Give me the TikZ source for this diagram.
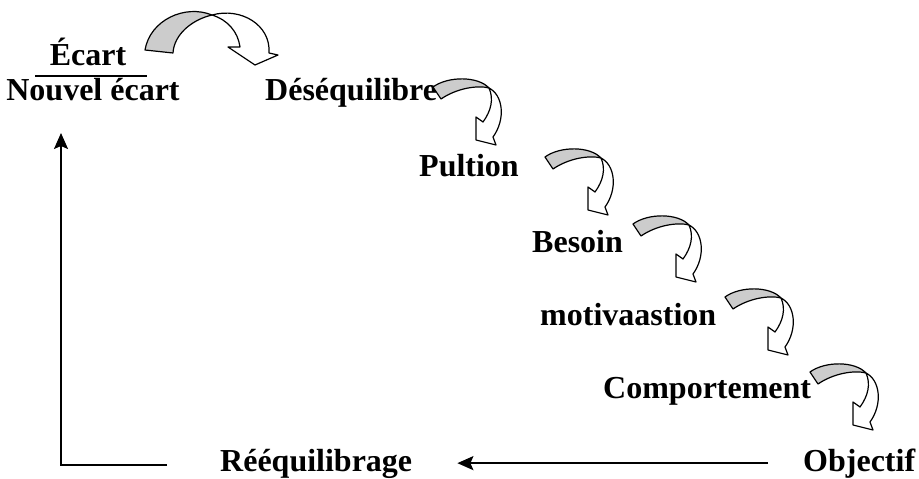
\documentclass[tikz,border=0pt]{standalone}
\usepackage{fontspec}
\setmainfont{Liberation Serif}
\usepackage{xcolor}
\usepackage{tikz}
\usetikzlibrary{arrows.meta}
\definecolor{curlgray}{RGB}{204, 204, 204}

\tikzset{
  smallcurl/.pic={
    \draw[curl, fill=curlgray] (0,0) .. controls (15,-11) and (45,-11) .. (56,1)
      .. controls (45,-2) and (24,1) .. (8,12) -- cycle;
    \draw[curl, fill=white] (56,1) .. controls (70,8) and (73,32) .. (60,50)
      -- (63,58) -- (43,53) -- (43,30) -- (50,35)
      .. controls (58,24) and (61,12) .. (56,1) -- cycle;
  },
  bigcurl/.pic={
    \draw[curl, fill=curlgray] (0,0) .. controls (5,-30) and (40,-46) .. (67,-35)
      .. controls (46,-30) and (29,-15) .. (28,3) -- cycle;
    \draw[curl, fill=white] (67,-35) .. controls (96,-43) and (126,-25) .. (124,3)
      -- (133,5) -- (110,15) -- (83,-3) -- (95,-3)
      .. controls (93,-18) and (83,-30) .. (67,-35) -- cycle;
  }
}

\begin{document}
\begin{tikzpicture}[x=1pt, y=-1pt,
  >={Stealth[length=16pt, width=14pt, inset=3pt]},
  curl/.style={draw=black, line width=1.2pt, line join=round},
  lbl/.style={inner sep=0pt, font=\bfseries\fontsize{32}{38}\selectfont},
  loop/.style={line width=1.8pt}]
  \useasboundingbox (0,0) rectangle (919,479);
  % labels
  \node[lbl, anchor=base] (ecart) at (88,65) {Écart};
  \node[lbl, anchor=base] (nouvel) at (93,100) {Nouvel écart};
  \node[lbl, anchor=base west] (deseq) at (265,100) {Déséquilibre};
  \node[lbl, anchor=base west] (pultion) at (419,176) {Pultion};
  \node[lbl, anchor=base west] (besoin) at (532,252) {Besoin};
  \node[lbl, anchor=base west] (motiv) at (540,325) {motivaastion};
  \node[lbl, anchor=base west] (comport) at (603,398) {Comportement};
  \node[lbl, anchor=base west] (objectif) at (803,471) {Objectif};
  \node[lbl, anchor=base west] (reequil) at (220,471) {Rééquilibrage};
  % fraction bar
  \draw[line width=1.3pt] (35,76) -- (147,76);
  % curled arrows
  \pic at (145,50) {bigcurl};
  \foreach \p in {(433,87), (545,157), (633,224), (725,297), (810,372)}
    \pic at \p {smallcurl};
  % feedback loop
  \coordinate (loopfoot) at (167,465);
  \coordinate (looptip) at (61,133);
  \draw[loop, ->] (loopfoot) -| (looptip);
  \draw[loop, ->, shorten <=35pt, shorten >=45pt] (objectif.west) -- (reequil.east |- objectif.west);
\end{tikzpicture}
\end{document}
